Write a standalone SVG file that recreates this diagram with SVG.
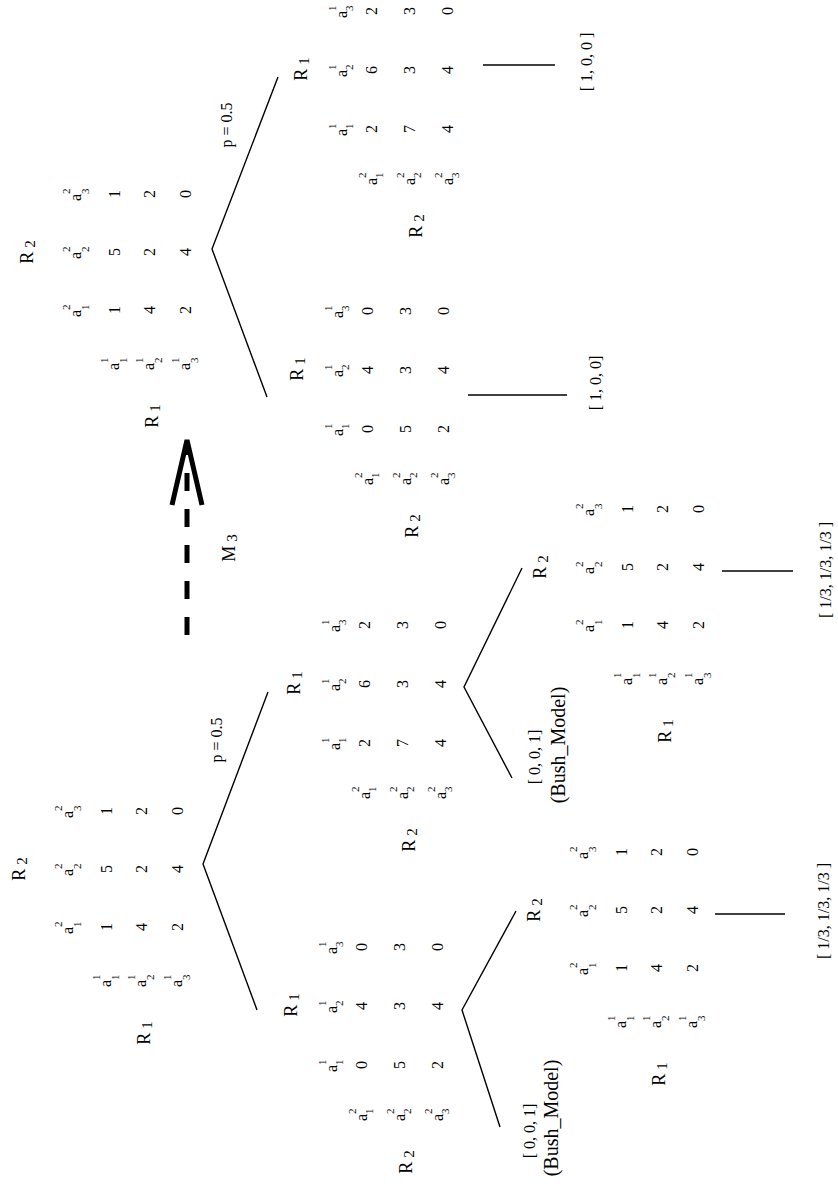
<svg xmlns="http://www.w3.org/2000/svg" width="838" height="1188" viewBox="0 0 838 1188">
<style>
text{font-family:"Liberation Serif","Times New Roman",serif;fill:#000}
.v{font-size:16px;text-anchor:middle}
.a{font-size:16px;text-anchor:end}
.s{font-size:11px}
.r{font-size:18px;text-anchor:middle}
.rs{font-size:15px}
.lbl{font-size:16px;text-anchor:middle}
.bm{font-size:20px;text-anchor:middle}
.ln{stroke:#000;stroke-width:1.4;fill:none}
.arr{stroke:#000;stroke-width:5;fill:none}
</style>
<rect width="838" height="1188" fill="#fff"/>

<!-- Left tree root (type A) -->
<g id="m1" transform="translate(112,869) rotate(-90)">
<text class="r" x="0" y="-87">R<tspan class="rs" dx="4" dy="2">2</tspan></text>
<text class="a" x="-58" y="-39">a</text><text class="s" x="-58" y="-50">2</text><text class="s" x="-58" y="-31">1</text>
<text class="a" x="0" y="-39">a</text><text class="s" x="0" y="-50">2</text><text class="s" x="0" y="-31">2</text>
<text class="a" x="58" y="-39">a</text><text class="s" x="58" y="-50">2</text><text class="s" x="58" y="-31">3</text>
<text class="v" x="-58" y="0">1</text><text class="v" x="0" y="0">5</text><text class="v" x="58" y="0">1</text>
<text class="v" x="-58" y="35">4</text><text class="v" x="0" y="35">2</text><text class="v" x="58" y="35">2</text>
<text class="v" x="-58" y="71">2</text><text class="v" x="0" y="71">4</text><text class="v" x="58" y="71">0</text>
<text class="a" x="-111" y="-1">a</text><text class="s" x="-111" y="-12">1</text><text class="s" x="-111" y="7">1</text>
<text class="a" x="-111" y="34">a</text><text class="s" x="-111" y="23">1</text><text class="s" x="-111" y="42">2</text>
<text class="a" x="-111" y="70">a</text><text class="s" x="-111" y="59">1</text><text class="s" x="-111" y="78">3</text>
<text class="r" x="-164" y="38">R<tspan class="rs" dx="4" dy="2">1</tspan></text>
</g>

<!-- Left tree lower child (type B) -->
<g id="m2" transform="translate(367,1006) rotate(-90)">
<text class="r" x="1" y="-70">R<tspan class="rs" dx="4" dy="2">1</tspan></text>
<text class="a" x="-59" y="-30">a</text><text class="s" x="-59" y="-41">1</text><text class="s" x="-59" y="-24">1</text>
<text class="a" x="0" y="-30">a</text><text class="s" x="0" y="-41">1</text><text class="s" x="0" y="-24">2</text>
<text class="a" x="59" y="-30">a</text><text class="s" x="59" y="-41">1</text><text class="s" x="59" y="-24">3</text>
<text class="v" x="-59" y="0">0</text><text class="v" x="0" y="0">4</text><text class="v" x="59" y="0">0</text>
<text class="v" x="-59" y="38">5</text><text class="v" x="0" y="38">3</text><text class="v" x="59" y="38">3</text>
<text class="v" x="-59" y="76">2</text><text class="v" x="0" y="76">4</text><text class="v" x="59" y="76">0</text>
<text class="a" x="-108" y="0">a</text><text class="s" x="-108" y="-11">2</text><text class="s" x="-108" y="6">1</text>
<text class="a" x="-108" y="38">a</text><text class="s" x="-108" y="27">2</text><text class="s" x="-108" y="44">2</text>
<text class="a" x="-108" y="76">a</text><text class="s" x="-108" y="65">2</text><text class="s" x="-108" y="82">3</text>
<text class="r" x="-156" y="45">R<tspan class="rs" dx="4" dy="2">2</tspan></text>
</g>

<!-- Left tree upper child (type B) -->
<g id="m3" transform="translate(370,684) rotate(-90)">
<text class="r" x="1" y="-70">R<tspan class="rs" dx="4" dy="2">1</tspan></text>
<text class="a" x="-59" y="-30">a</text><text class="s" x="-59" y="-41">1</text><text class="s" x="-59" y="-24">1</text>
<text class="a" x="0" y="-30">a</text><text class="s" x="0" y="-41">1</text><text class="s" x="0" y="-24">2</text>
<text class="a" x="59" y="-30">a</text><text class="s" x="59" y="-41">1</text><text class="s" x="59" y="-24">3</text>
<text class="v" x="-59" y="0">2</text><text class="v" x="0" y="0">6</text><text class="v" x="59" y="0">2</text>
<text class="v" x="-59" y="38">7</text><text class="v" x="0" y="38">3</text><text class="v" x="59" y="38">3</text>
<text class="v" x="-59" y="76">4</text><text class="v" x="0" y="76">4</text><text class="v" x="59" y="76">0</text>
<text class="a" x="-108" y="0">a</text><text class="s" x="-108" y="-11">2</text><text class="s" x="-108" y="6">1</text>
<text class="a" x="-108" y="38">a</text><text class="s" x="-108" y="27">2</text><text class="s" x="-108" y="44">2</text>
<text class="a" x="-108" y="76">a</text><text class="s" x="-108" y="65">2</text><text class="s" x="-108" y="82">3</text>
<text class="r" x="-156" y="45">R<tspan class="rs" dx="4" dy="2">2</tspan></text>
</g>

<!-- Left tree leaf under lower child (type A) -->
<g id="m4" transform="translate(627,910) rotate(-90)">
<text class="r" x="0" y="-87">R<tspan class="rs" dx="4" dy="2">2</tspan></text>
<text class="a" x="-58" y="-39">a</text><text class="s" x="-58" y="-50">2</text><text class="s" x="-58" y="-31">1</text>
<text class="a" x="0" y="-39">a</text><text class="s" x="0" y="-50">2</text><text class="s" x="0" y="-31">2</text>
<text class="a" x="58" y="-39">a</text><text class="s" x="58" y="-50">2</text><text class="s" x="58" y="-31">3</text>
<text class="v" x="-58" y="0">1</text><text class="v" x="0" y="0">5</text><text class="v" x="58" y="0">1</text>
<text class="v" x="-58" y="35">4</text><text class="v" x="0" y="35">2</text><text class="v" x="58" y="35">2</text>
<text class="v" x="-58" y="71">2</text><text class="v" x="0" y="71">4</text><text class="v" x="58" y="71">0</text>
<text class="a" x="-111" y="-1">a</text><text class="s" x="-111" y="-12">1</text><text class="s" x="-111" y="7">1</text>
<text class="a" x="-111" y="34">a</text><text class="s" x="-111" y="23">1</text><text class="s" x="-111" y="42">2</text>
<text class="a" x="-111" y="70">a</text><text class="s" x="-111" y="59">1</text><text class="s" x="-111" y="78">3</text>
<text class="r" x="-164" y="38">R<tspan class="rs" dx="4" dy="2">1</tspan></text>
</g>

<!-- Left tree leaf under upper child (type A) -->
<g id="m5" transform="translate(633,567) rotate(-90)">
<text class="r" x="0" y="-87">R<tspan class="rs" dx="4" dy="2">2</tspan></text>
<text class="a" x="-58" y="-39">a</text><text class="s" x="-58" y="-50">2</text><text class="s" x="-58" y="-31">1</text>
<text class="a" x="0" y="-39">a</text><text class="s" x="0" y="-50">2</text><text class="s" x="0" y="-31">2</text>
<text class="a" x="58" y="-39">a</text><text class="s" x="58" y="-50">2</text><text class="s" x="58" y="-31">3</text>
<text class="v" x="-58" y="0">1</text><text class="v" x="0" y="0">5</text><text class="v" x="58" y="0">1</text>
<text class="v" x="-58" y="35">4</text><text class="v" x="0" y="35">2</text><text class="v" x="58" y="35">2</text>
<text class="v" x="-58" y="71">2</text><text class="v" x="0" y="71">4</text><text class="v" x="58" y="71">0</text>
<text class="a" x="-111" y="-1">a</text><text class="s" x="-111" y="-12">1</text><text class="s" x="-111" y="7">1</text>
<text class="a" x="-111" y="34">a</text><text class="s" x="-111" y="23">1</text><text class="s" x="-111" y="42">2</text>
<text class="a" x="-111" y="70">a</text><text class="s" x="-111" y="59">1</text><text class="s" x="-111" y="78">3</text>
<text class="r" x="-164" y="38">R<tspan class="rs" dx="4" dy="2">1</tspan></text>
</g>

<!-- Right tree root (type A) -->
<g id="m6" transform="translate(120,252) rotate(-90)">
<text class="r" x="0" y="-87">R<tspan class="rs" dx="4" dy="2">2</tspan></text>
<text class="a" x="-58" y="-39">a</text><text class="s" x="-58" y="-50">2</text><text class="s" x="-58" y="-31">1</text>
<text class="a" x="0" y="-39">a</text><text class="s" x="0" y="-50">2</text><text class="s" x="0" y="-31">2</text>
<text class="a" x="58" y="-39">a</text><text class="s" x="58" y="-50">2</text><text class="s" x="58" y="-31">3</text>
<text class="v" x="-58" y="0">1</text><text class="v" x="0" y="0">5</text><text class="v" x="58" y="0">1</text>
<text class="v" x="-58" y="35">4</text><text class="v" x="0" y="35">2</text><text class="v" x="58" y="35">2</text>
<text class="v" x="-58" y="71">2</text><text class="v" x="0" y="71">4</text><text class="v" x="58" y="71">0</text>
<text class="a" x="-111" y="-1">a</text><text class="s" x="-111" y="-12">1</text><text class="s" x="-111" y="7">1</text>
<text class="a" x="-111" y="34">a</text><text class="s" x="-111" y="23">1</text><text class="s" x="-111" y="42">2</text>
<text class="a" x="-111" y="70">a</text><text class="s" x="-111" y="59">1</text><text class="s" x="-111" y="78">3</text>
<text class="r" x="-164" y="38">R<tspan class="rs" dx="4" dy="2">1</tspan></text>
</g>

<!-- Right tree lower child (type B) -->
<g id="m7" transform="translate(373,370) rotate(-90)">
<text class="r" x="1" y="-70">R<tspan class="rs" dx="4" dy="2">1</tspan></text>
<text class="a" x="-59" y="-30">a</text><text class="s" x="-59" y="-41">1</text><text class="s" x="-59" y="-24">1</text>
<text class="a" x="0" y="-30">a</text><text class="s" x="0" y="-41">1</text><text class="s" x="0" y="-24">2</text>
<text class="a" x="59" y="-30">a</text><text class="s" x="59" y="-41">1</text><text class="s" x="59" y="-24">3</text>
<text class="v" x="-59" y="0">0</text><text class="v" x="0" y="0">4</text><text class="v" x="59" y="0">0</text>
<text class="v" x="-59" y="38">5</text><text class="v" x="0" y="38">3</text><text class="v" x="59" y="38">3</text>
<text class="v" x="-59" y="76">2</text><text class="v" x="0" y="76">4</text><text class="v" x="59" y="76">0</text>
<text class="a" x="-108" y="0">a</text><text class="s" x="-108" y="-11">2</text><text class="s" x="-108" y="6">1</text>
<text class="a" x="-108" y="38">a</text><text class="s" x="-108" y="27">2</text><text class="s" x="-108" y="44">2</text>
<text class="a" x="-108" y="76">a</text><text class="s" x="-108" y="65">2</text><text class="s" x="-108" y="82">3</text>
<text class="r" x="-156" y="45">R<tspan class="rs" dx="4" dy="2">2</tspan></text>
</g>

<!-- Right tree upper child (type B) -->
<g id="m8" transform="translate(377,70) rotate(-90)">
<text class="r" x="1" y="-70">R<tspan class="rs" dx="4" dy="2">1</tspan></text>
<text class="a" x="-59" y="-30">a</text><text class="s" x="-59" y="-41">1</text><text class="s" x="-59" y="-24">1</text>
<text class="a" x="0" y="-30">a</text><text class="s" x="0" y="-41">1</text><text class="s" x="0" y="-24">2</text>
<text class="a" x="59" y="-30">a</text><text class="s" x="59" y="-41">1</text><text class="s" x="59" y="-24">3</text>
<text class="v" x="-59" y="0">2</text><text class="v" x="0" y="0">6</text><text class="v" x="59" y="0">2</text>
<text class="v" x="-59" y="38">7</text><text class="v" x="0" y="38">3</text><text class="v" x="59" y="38">3</text>
<text class="v" x="-59" y="76">4</text><text class="v" x="0" y="76">4</text><text class="v" x="59" y="76">0</text>
<text class="a" x="-108" y="0">a</text><text class="s" x="-108" y="-11">2</text><text class="s" x="-108" y="6">1</text>
<text class="a" x="-108" y="38">a</text><text class="s" x="-108" y="27">2</text><text class="s" x="-108" y="44">2</text>
<text class="a" x="-108" y="76">a</text><text class="s" x="-108" y="65">2</text><text class="s" x="-108" y="82">3</text>
<text class="r" x="-156" y="45">R<tspan class="rs" dx="4" dy="2">2</tspan></text>
</g>

<!-- Outcome labels -->
<g id="labels">
<text class="lbl" transform="translate(222,740) rotate(-90)">p = 0.5</text>
<text class="lbl" transform="translate(232,125) rotate(-90)">p = 0.5</text>
<text class="lbl" transform="translate(535,1131) rotate(-90)">[ 0, 0, 1]</text>
<text class="bm" transform="translate(558,1118) rotate(-90)">(Bush_Model)</text>
<text class="lbl" transform="translate(540,757) rotate(-90)">[ 0, 0, 1]</text>
<text class="bm" transform="translate(565,745) rotate(-90)">(Bush_Model)</text>
<text class="lbl" transform="translate(829,911) rotate(-90)">[ 1/3, 1/3, 1/3 ]</text>
<text class="lbl" transform="translate(831,570) rotate(-90)">[ 1/3, 1/3, 1/3 ]</text>
<text class="lbl" transform="translate(601,383) rotate(-90)">[ 1, 0, 0]</text>
<text class="lbl" transform="translate(592,62) rotate(-90)">[ 1, 0, 0 ]</text>
</g>

<!-- Model transition arrow -->
<g id="arrow">
<line class="arr" x1="187" y1="635" x2="187" y2="442" stroke-dasharray="18 18"/>
<polyline class="arr" points="172,505 187,440 202,505"/>
<text class="r" transform="translate(235,548) rotate(-90)">M<tspan class="rs" dx="4" dy="2">3</tspan></text>
</g>

<!-- Connectors -->
<g id="connectors">
<polyline class="ln" points="268,692 203,864 257,1010"/>
<polyline class="ln" points="516,911 462,1010 500,1127"/>
<polyline class="ln" points="522,568 464,687 512,778"/>
<line class="ln" x1="715" y1="914" x2="785" y2="914"/>
<line class="ln" x1="722" y1="571" x2="793" y2="571"/>
<polyline class="ln" points="278,77 212,249 267,397"/>
<line class="ln" x1="468" y1="395" x2="567" y2="395"/>
<line class="ln" x1="483" y1="65" x2="555" y2="65"/>
</g>
</svg>
